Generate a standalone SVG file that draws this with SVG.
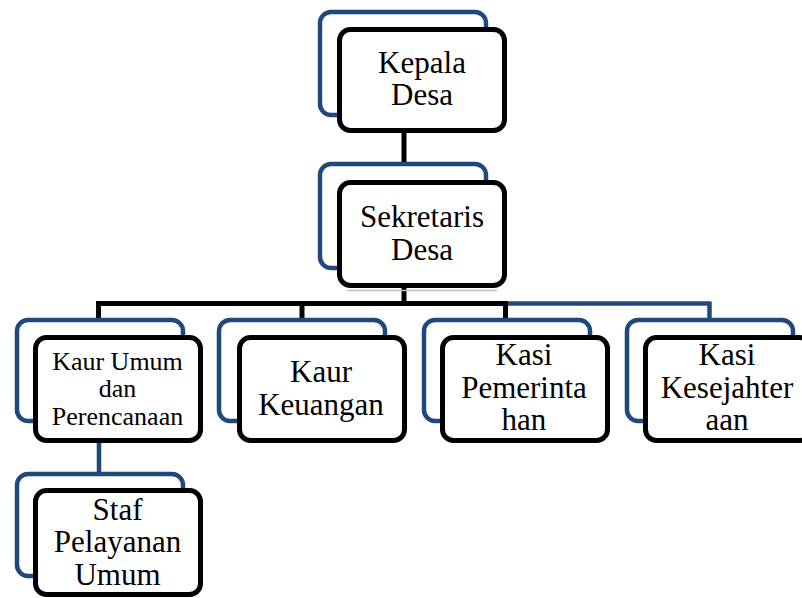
<svg xmlns="http://www.w3.org/2000/svg" width="802" height="598" viewBox="0 0 802 598">
<style>
.back{fill:#ffffff;stroke:#1f497d;stroke-width:4.5}
.front{fill:#ffffff;stroke:#000000;stroke-width:5}
.t{font-family:"Liberation Serif","Times New Roman",serif;font-size:31px;fill:#000;text-anchor:middle}
.s{font-size:26px}
.cb{stroke:#000;stroke-width:5;fill:none}
.cu{stroke:#1f497d;stroke-width:4.5;fill:none}
</style>
<rect width="802" height="598" fill="#ffffff"/>
<g id="connectors">
<line class="cb" x1="404" y1="130" x2="404" y2="184"/>
<line class="cb" x1="404" y1="284" x2="404" y2="303.5"/>
<line class="cu" x1="503" y1="303.5" x2="709.5" y2="303.5"/>
<line class="cu" x1="709.5" y1="301.5" x2="709.5" y2="322"/>
<line class="cb" x1="96" y1="303.5" x2="508" y2="303.5"/>
<line class="cb" x1="98.5" y1="301" x2="98.5" y2="322"/>
<line class="cb" x1="302" y1="301" x2="302" y2="322"/>
<line class="cb" x1="505.5" y1="301" x2="505.5" y2="322"/>
<line class="cu" x1="99" y1="440" x2="99" y2="476"/>
<line x1="347" y1="290.5" x2="497" y2="290.5" stroke="#c0c0c0" stroke-width="1.5"/>
</g>
<g id="kepala-desa">
<rect class="back" x="320" y="12" width="166" height="103" rx="11"/>
<rect class="front" x="339.5" y="29.5" width="165" height="101" rx="11"/>
<text class="t" x="422" y="73">Kepala</text>
<text class="t" x="422" y="105">Desa</text>
</g>
<g id="sekretaris-desa">
<rect class="back" x="320" y="164" width="166" height="104" rx="11"/>
<rect class="front" x="339.5" y="182.5" width="165" height="103" rx="11"/>
<text class="t" x="422" y="227">Sekretaris</text>
<text class="t" x="422" y="260">Desa</text>
</g>
<g id="kaur-umum">
<rect class="back" x="17" y="320" width="166" height="101" rx="11"/>
<rect class="front" x="35.5" y="337.5" width="165" height="103" rx="11"/>
<text class="t s" x="117.5" y="370">Kaur Umum</text>
<text class="t s" x="117.5" y="397">dan</text>
<text class="t s" x="117.5" y="425">Perencanaan</text>
</g>
<g id="kaur-keuangan">
<rect class="back" x="219" y="320" width="166" height="101" rx="11"/>
<rect class="front" x="239.5" y="337.5" width="165" height="103" rx="11"/>
<text class="t" x="321" y="382">Kaur</text>
<text class="t" x="321" y="415">Keuangan</text>
</g>
<g id="kasi-pemerintahan">
<rect class="back" x="424" y="320" width="166" height="101" rx="11"/>
<rect class="front" x="442.5" y="337.5" width="165" height="103" rx="11"/>
<text class="t" x="524" y="365">Kasi</text>
<text class="t" x="524" y="398">Pemerinta</text>
<text class="t" x="524" y="430">han</text>
</g>
<g id="kasi-kesejahteraan">
<rect class="back" x="627" y="320" width="166" height="101" rx="11"/>
<rect class="front" x="645.5" y="337.5" width="165" height="103" rx="11"/>
<text class="t" x="727" y="365">Kasi</text>
<text class="t" x="727" y="398">Kesejahter</text>
<text class="t" x="727" y="430">aan</text>
</g>
<g id="staf-pelayanan-umum">
<rect class="back" x="17" y="474" width="166" height="102" rx="11"/>
<rect class="front" x="35.5" y="490.5" width="165" height="104" rx="11"/>
<text class="t" x="117.5" y="520">Staf</text>
<text class="t" x="117.5" y="552">Pelayanan</text>
<text class="t" x="117.5" y="585">Umum</text>
</g>
</svg>
